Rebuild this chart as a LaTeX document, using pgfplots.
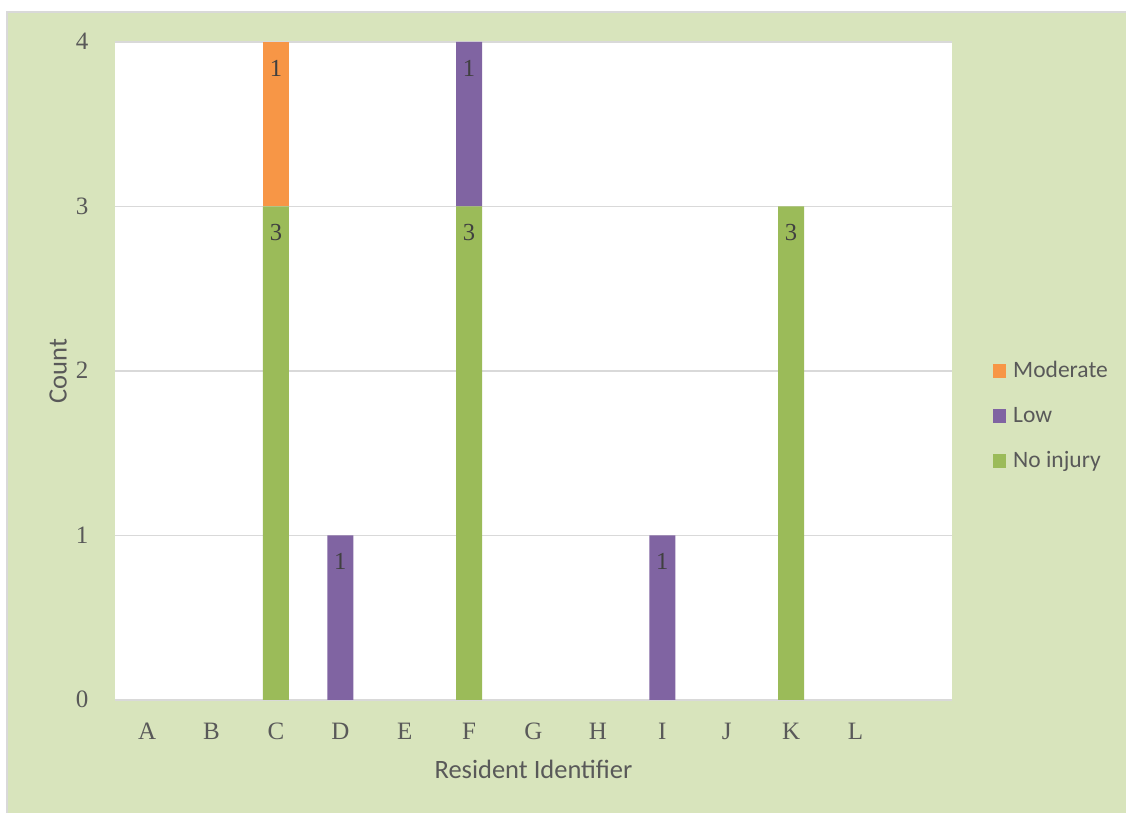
\documentclass[border=0pt]{standalone}
\usepackage{pgfplots}
\pgfplotsset{compat=1.18}
\usepackage{pgfplotstable}
\usepackage{fontspec}
\setmainfont{Liberation Serif}
\newfontfamily\carlito{Carlito}
\definecolor{bgc}{HTML}{D8E4BC}
\definecolor{bordc}{HTML}{D9D9D9}
\definecolor{gridc}{HTML}{D9D9D9}
\definecolor{cgreen}{HTML}{9BBB59}
\definecolor{cpurple}{HTML}{8064A2}
\definecolor{corange}{HTML}{F79646}
\definecolor{txt}{HTML}{595959}
\definecolor{dlab}{HTML}{404040}

\pgfplotstableread{
x ni lo mo nil lol mol
0 0 0 0 {} {} {}
1 0 0 0 {} {} {}
2 3 0 1 3 {} 1
3 0 1 0 {} 1 {}
4 0 0 0 {} {} {}
5 3 1 0 3 1 {}
6 0 0 0 {} {} {}
7 0 0 0 {} {} {}
8 0 1 0 {} 1 {}
9 0 0 0 {} {} {}
10 3 0 0 3 {} {}
11 0 0 0 {} {} {}
}\data

\begin{document}
\begin{tikzpicture}
\path[use as bounding box] (0,0) rectangle (1126pt,813pt);
\fill[white] (0,0) rectangle (1126pt,813pt);
\fill[bgc] (7pt,0) rectangle (1126pt,801pt);
\draw[bordc, line width=1.5pt] (7pt,0) -- (7pt,801pt) -- (1126pt,801pt);
\begin{axis}[
  at={(115pt,113pt)}, anchor=south west,
  scale only axis, width=837pt, height=658pt,
  axis background/.style={fill=white},
  ybar stacked, bar width=26pt,
  xmin=-0.5, xmax=12.5, ymin=0, ymax=4,
  xtick={0,...,11},
  xticklabels={A,B,C,D,E,F,G,H,I,J,K,L},
  ytick={0,1,2,3,4},
  /pgf/number format/assume math mode=true,
  major tick length=0pt,
  axis x line*=bottom, axis y line*=left,
  x axis line style={draw=gridc, line width=2pt, -},
  y axis line style={draw=none},
  ymajorgrids, grid style={draw=gridc, line width=1.5pt},
  xticklabel style={font=\fontsize{25}{28}\selectfont, text=txt, anchor=base, yshift=-39pt},
  yticklabel style={font=\fontsize{25}{28}\selectfont, text=txt, anchor=base east, xshift=-23pt, yshift=-8pt},
  every axis y label/.style={at={(axis description cs:0,0.5)}, xshift=-57pt, rotate=90, anchor=center, font=\fontsize{26.5}{30}\selectfont\carlito, text=txt},
  every axis x label/.style={at={(axis description cs:0.5,0)}, yshift=-69pt, anchor=center, font=\fontsize{26.5}{30}\selectfont\carlito, text=txt},
  xlabel={Resident Identifier},
  ylabel={Count},
  point meta=explicit symbolic,
  nodes near coords,
  legend image code/.code={\fill[#1] (0pt,-6pt) rectangle (13pt,8pt); \path (20pt,0pt);},
  reverse legend,
  legend style={at={(axis description cs:1.0454,0.4301)}, anchor=west, draw=none, fill=none,
    font=\fontsize{23.5}{27}\selectfont\carlito, text=txt, row sep=24pt,
    nodes={inner sep=0pt, text height=16pt, text depth=5pt, anchor=west}},
]
\addplot[fill=cgreen, draw=none,
  every node near coord/.style={font=\fontsize{24.5}{28}\selectfont, text=dlab, anchor=center, yshift=220.75pt}]
  table[x=x, y=ni, meta=nil] {\data};
\addplot[fill=cpurple, draw=none,
  every node near coord/.style={font=\fontsize{24.5}{28}\selectfont, text=dlab, anchor=center, yshift=56.25pt}]
  table[x=x, y=lo, meta=lol] {\data};
\addplot[fill=corange, draw=none,
  every node near coord/.style={font=\fontsize{24.5}{28}\selectfont, text=dlab, anchor=center, yshift=56.25pt}]
  table[x=x, y=mo, meta=mol] {\data};
\legend{No injury, Low, Moderate}
\end{axis}
\end{tikzpicture}
\end{document}
